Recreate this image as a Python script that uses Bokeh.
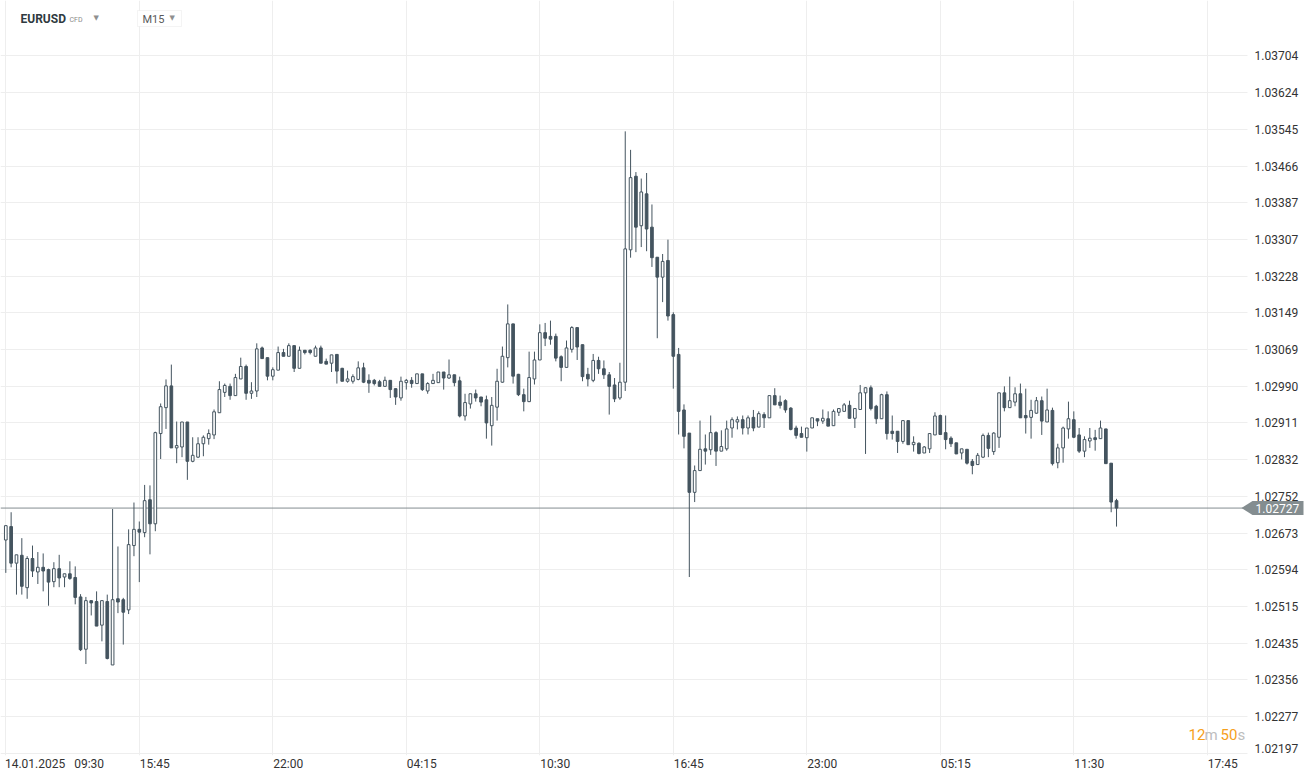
from bokeh.plotting import figure
from bokeh.models import (Range1d, FixedTicker, Label, Span, PolyAnnotation, LinearAxis,
                          BoxAnnotation, PrintfTickFormatter, ColumnDataSource)
from bokeh.embed import file_html
from bokeh.resources import INLINE

# ---------------- data (EURUSD M15, prices in 1e-5 units) ----------------
opens = [102658, 102687, 102608, 102625, 102555, 102618, 102589, 102599, 102594, 102568,
         102596, 102578, 102585, 102577, 102535, 102422, 102527, 102525, 102474, 102525,
         102388, 102531, 102529, 102507, 102646, 102681, 102674, 102745, 102693, 102888,
         102944, 102991, 102857, 102859, 102913, 102828, 102837, 102866, 102877, 102885,
         102933, 102977, 102990, 102970, 103006, 103033, 102975, 102980, 103073, 103052,
         103012, 103025, 103063, 103055, 103078, 103029, 103068, 103068, 103055, 103073,
         103044, 103040, 103059, 103029, 103001, 103001, 103005, 103030, 103003, 103003,
         103000, 102990, 103003, 102985, 102965, 102998, 103003, 102996, 103017, 102980,
         102996, 102998, 103021, 103008, 103015, 103002, 102926, 102952, 102974, 102967,
         102961, 102905, 102945, 102999, 103052, 103125, 103016, 102972, 102957, 103006,
         103047, 103106, 103098, 103098, 103054, 103031, 103070, 103117, 103080, 103016,
         103003, 103046, 103028, 103015, 102993, 102965, 102999, 103285, 103444, 103337,
         103406, 103334, 103269, 103226, 103262, 103145, 103059, 102939, 102889, 102761,
         102808, 102855, 102853, 102890, 102850, 102855, 102900, 102913, 102918, 102900,
         102923, 102902, 102929, 102922, 102970, 102956, 102959, 102943, 102900, 102888,
         102879, 102900, 102920, 102915, 102920, 102905, 102934, 102936, 102949, 102921,
         102940, 102976, 102987, 102947, 102920, 102972, 102893, 102893, 102871, 102916,
         102864, 102867, 102846, 102855, 102885, 102927, 102890, 102878, 102868, 102846,
         102854, 102828, 102821, 102837, 102884, 102849, 102880, 102976, 102944, 102956,
         102974, 102927, 102923, 102932, 102959, 102913, 102938, 102825, 102857, 102898,
         102918, 102885, 102850, 102872, 102879, 102877, 102898, 102824, 102743]
highs = [102689, 102718, 102626, 102662, 102623, 102646, 102632, 102629, 102596, 102610,
         102626, 102585, 102612, 102601, 102541, 102535, 102527, 102547, 102527, 102540,
         102725, 102644, 102533, 102681, 102739, 102698, 102777, 102776, 102892, 102953,
         103005, 103037, 102914, 102913, 102913, 102880, 102880, 102884, 102897, 102940,
         103001, 102996, 102996, 103017, 103052, 103037, 102999, 103083, 103076, 103052,
         103031, 103076, 103071, 103083, 103078, 103076, 103068, 103070, 103078, 103078,
         103050, 103058, 103059, 103030, 103024, 103016, 103044, 103041, 103016, 103006,
         103004, 103011, 103003, 102985, 103011, 103006, 103010, 103017, 103017, 102999,
         103017, 103021, 103021, 103048, 103015, 103011, 102974, 102974, 102983, 102967,
         102970, 102967, 103028, 103076, 103167, 103125, 103017, 102985, 103065, 103065,
         103124, 103127, 103132, 103104, 103057, 103089, 103120, 103117, 103080, 103030,
         103060, 103054, 103046, 103021, 103008, 103041, 103541, 103501, 103453, 103439,
         103451, 103383, 103269, 103276, 103307, 103150, 103073, 102951, 102889, 102819,
         102916, 102886, 102927, 102893, 102895, 102916, 102923, 102925, 102927, 102927,
         102939, 102936, 102934, 102970, 102986, 102970, 102962, 102945, 102905, 102903,
         102900, 102922, 102920, 102940, 102936, 102940, 102943, 102954, 102959, 102942,
         102993, 102988, 102992, 102950, 102974, 102979, 102927, 102893, 102916, 102916,
         102882, 102869, 102861, 102888, 102934, 102929, 102927, 102882, 102868, 102855,
         102854, 102833, 102846, 102888, 102890, 102891, 102976, 102990, 103011, 102988,
         102996, 102985, 102961, 102967, 102968, 102985, 102944, 102866, 102903, 102957,
         102936, 102900, 102882, 102900, 102896, 102916, 102898, 102824, 102747]
lows = [102587, 102599, 102540, 102540, 102531, 102578, 102563, 102547, 102516, 102556,
        102556, 102556, 102572, 102519, 102418, 102390, 102495, 102472, 102439, 102400,
        102388, 102500, 102432, 102498, 102623, 102567, 102664, 102627, 102677, 102833,
        102898, 102857, 102824, 102837, 102788, 102826, 102835, 102839, 102864, 102876,
        102933, 102967, 102961, 102970, 103006, 102961, 102963, 102967, 103050, 103003,
        103003, 103025, 103055, 103055, 103021, 103029, 103059, 103059, 103055, 103040,
        103038, 103021, 102996, 103001, 102998, 102996, 103003, 102997, 102976, 102992,
        102990, 102990, 102965, 102950, 102959, 102983, 102987, 102996, 102980, 102974,
        102996, 102998, 102983, 103006, 102990, 102923, 102916, 102942, 102957, 102947,
        102877, 102862, 102916, 102998, 103031, 102996, 102969, 102936, 102956, 102994,
        103047, 103077, 103080, 103044, 103001, 103031, 103063, 103047, 103001, 102990,
        102999, 103017, 103006, 102929, 102956, 102961, 102980, 103268, 103280, 103291,
        103282, 103248, 103094, 103172, 103132, 102985, 102886, 102856, 102578, 102740,
        102808, 102821, 102842, 102818, 102850, 102851, 102879, 102897, 102886, 102886,
        102893, 102902, 102900, 102922, 102950, 102942, 102933, 102895, 102877, 102880,
        102849, 102900, 102904, 102909, 102904, 102905, 102926, 102936, 102921, 102900,
        102940, 102844, 102938, 102909, 102920, 102875, 102875, 102846, 102866, 102864,
        102849, 102843, 102846, 102846, 102885, 102886, 102854, 102859, 102844, 102832,
        102821, 102800, 102821, 102835, 102837, 102842, 102857, 102936, 102944, 102947,
        102922, 102888, 102877, 102931, 102885, 102913, 102819, 102813, 102825, 102877,
        102878, 102846, 102837, 102857, 102851, 102877, 102823, 102718, 102687]
closes = [102689, 102608, 102626, 102558, 102618, 102591, 102599, 102591, 102567, 102596,
          102576, 102585, 102575, 102534, 102421, 102527, 102522, 102472, 102527, 102402,
          102529, 102524, 102502, 102648, 102681, 102675, 102743, 102693, 102890, 102946,
          102991, 102857, 102862, 102913, 102828, 102841, 102866, 102880, 102888, 102935,
          102983, 102992, 102970, 103009, 103033, 102975, 102980, 103071, 103050, 103012,
          103026, 103063, 103055, 103078, 103029, 103068, 103063, 103063, 103073, 103040,
          103038, 103058, 103023, 103001, 103006, 103011, 103030, 102999, 102997, 102996,
          102990, 103003, 102983, 102967, 103001, 103003, 102996, 103017, 102983, 102996,
          103003, 103021, 103008, 103015, 102998, 102926, 102955, 102974, 102965, 102956,
          102911, 102949, 103001, 103055, 103125, 103012, 102972, 102957, 103009, 103047,
          103106, 103094, 103092, 103051, 103031, 103073, 103117, 103075, 103011, 103006,
          103046, 103028, 103015, 102990, 102963, 102999, 103287, 103441, 103334, 103410,
          103330, 103268, 103226, 103260, 103142, 103055, 102936, 102882, 102761, 102808,
          102854, 102850, 102890, 102850, 102860, 102898, 102918, 102918, 102900, 102922,
          102900, 102931, 102922, 102970, 102950, 102949, 102939, 102897, 102884, 102880,
          102900, 102922, 102915, 102921, 102904, 102936, 102942, 102950, 102921, 102942,
          102976, 102987, 102942, 102920, 102972, 102888, 102888, 102871, 102916, 102864,
          102869, 102845, 102859, 102888, 102926, 102886, 102875, 102866, 102844, 102855,
          102824, 102819, 102841, 102884, 102856, 102889, 102976, 102944, 102959, 102974,
          102922, 102922, 102938, 102959, 102915, 102939, 102823, 102857, 102900, 102920,
          102880, 102850, 102875, 102878, 102875, 102900, 102823, 102740, 102727]

price_ticks = [1.02197, 1.02277, 1.02356, 1.02435, 1.02515, 1.02594, 1.02673, 1.02752,
               1.02832, 1.02911, 1.02990, 1.03069, 1.03149, 1.03228, 1.03307, 1.03387,
               1.03466, 1.03545, 1.03624, 1.03704]
time_labels = ["14.01.2025\u00a0\u00a0\u00a009:30", "15:45", "22:00", "04:15", "10:30",
               "16:45", "23:00", "05:15", "11:30", "17:45"]
time_label_candles = [0, 25, 50, 75, 100, 125, 150, 175, 200, 225]
countdown = [("12", "#f6a01a"), ("m", "#bdbdbd"), ("50", "#f6a01a"), ("s", "#bdbdbd")]
symbol, symbol_kind, timeframe = "EURUSD", "CFD", "M15"

# ---------------- layout helpers (canvas pixels -> data space) ----------------
CANDLE0_X, CANDLE_PX = 5.3, 5.34
REF_PRICE, REF_Y, PX_PER_PRICE = 1.02752, 496.0, 46280.0
W, H = 1314, 779
CHART_R, FRAME_B = 1247, 755


def dx(px):
    return (px - CANDLE0_X) / CANDLE_PX


def dy(py):
    return REF_PRICE - (py - REF_Y) / PX_PER_PRICE


DARK = "#44545f"
TAG = "#848d90"
FONT = "Roboto"

o = [v / 1e5 for v in opens]
h = [v / 1e5 for v in highs]
l = [v / 1e5 for v in lows]
c = [v / 1e5 for v in closes]
xs = list(range(len(o)))
src = ColumnDataSource(dict(
    x=xs, h=h, l=l,
    top=[max(a, b) for a, b in zip(o, c)],
    bot=[min(a, b) for a, b in zip(o, c)],
    fill=["white" if cc >= oo else DARK for oo, cc in zip(o, c)],
))

# frame spans the full width; the price axis is pinned at the chart's right edge
p = figure(width=W, height=H,
           x_range=Range1d(dx(0), dx(W)), y_range=Range1d(dy(FRAME_B), dy(0)),
           y_axis_location="right", output_backend="svg", toolbar_location=None,
           min_border_left=0, min_border_right=0, min_border_top=0,
           min_border_bottom=H - FRAME_B)
p.outline_line_color = None
p.background_fill_color = "white"
p.border_fill_color = "white"


def style_axis(ax):
    ax.axis_line_color = None
    ax.major_tick_line_color = None
    ax.minor_tick_line_color = None
    ax.major_tick_out = 0
    ax.major_tick_in = 0
    ax.major_label_text_font = FONT
    ax.major_label_text_font_size = "12px"
    ax.major_label_text_color = "#333333"


# price axis: the lowest label is nudged up to stay inside the chart (as in the original)
p.yaxis.ticker = FixedTicker(ticks=price_ticks[1:])
p.yaxis.formatter = PrintfTickFormatter(format="%.5f")
p.yaxis.fixed_location = dx(CHART_R)
style_axis(p.yaxis[0])
p.yaxis.major_label_standoff = 7
edge_pos = round(dy(748), 7)
edge_axis = LinearAxis(fixed_location=dx(CHART_R), ticker=FixedTicker(ticks=[edge_pos]),
                       major_label_overrides={edge_pos: f"{price_ticks[0]:.5f}"})
style_axis(edge_axis)
edge_axis.major_label_standoff = 7
p.add_layout(edge_axis, "right")

# time axis
label_centers = []
for i, (n, t) in enumerate(zip(time_label_candles, time_labels)):
    if i == 0:
        label_centers.append(round(dx(54), 3))
    else:
        label_centers.append(round(n + 15.5 / CANDLE_PX, 3))
p.xaxis.ticker = FixedTicker(ticks=label_centers)
p.xaxis.major_label_overrides = {k: t for k, t in zip(label_centers, time_labels)}
style_axis(p.xaxis[0])
p.xaxis.major_label_standoff = 1

p.xgrid.ticker = FixedTicker(ticks=time_label_candles)
p.ygrid.ticker = FixedTicker(ticks=price_ticks)
for g in (p.xgrid[0], p.ygrid[0]):
    g.grid_line_color = "#eeeeee"
    g.grid_line_width = 1

# current price line (under the candles)
last = c[-1]
p.add_layout(Span(location=last, dimension="width", line_color=TAG, line_width=1,
                  level="underlay"))
# keep the price-axis strip clear of grid lines
p.add_layout(BoxAnnotation(left=dx(CHART_R), fill_color="white", fill_alpha=1,
                           line_color=None, level="underlay"))

# candles
p.segment(x0="x", y0="h", x1="x", y1="l", source=src, line_color=DARK, line_width=1)
p.vbar(x="x", width=0.5, top="top", bottom="bot", source=src,
       fill_color="fill", line_color=DARK, line_width=1)

# current price tag
half = 7 / PX_PER_PRICE
p.add_layout(PolyAnnotation(
    xs=[dx(1241), dx(1252), dx(1303), dx(1303), dx(1252)],
    ys=[last, last + half, last + half, last - half, last - half],
    fill_color=TAG, fill_alpha=1, line_color=None))
p.add_layout(Label(x=dx(1255), y=last, text=f"{last:.5f}", text_color="white",
                   text_font=FONT, text_font_size="12px", text_baseline="middle",
                   text_align="left"))

# header
p.add_layout(Label(x=dx(20), y=dy(18.5), text=symbol, text_font=FONT, text_font_size="12px",
                   text_font_style="bold", text_color="#2f3a40", text_baseline="middle"))
p.add_layout(Label(x=dx(69), y=dy(19), text=symbol_kind, text_font=FONT, text_font_size="7px",
                   text_color="#8a8a8a", text_baseline="middle"))
p.add_layout(Label(x=dx(93), y=dy(17), text="\u25bc", text_font="DejaVu Sans", text_font_size="7px",
                   text_color="#8f8f8f", text_baseline="middle"))
p.add_layout(BoxAnnotation(left=dx(137), right=dx(181), top=dy(10), bottom=dy(26),
                           fill_color="white", fill_alpha=1, line_color="#dcdcdc", line_width=1))
p.add_layout(Label(x=dx(142), y=dy(18.5), text=timeframe, text_font=FONT, text_font_size="11px",
                   text_color="#5a5a5a", text_baseline="middle"))
p.add_layout(Label(x=dx(169), y=dy(17), text="\u25bc", text_font="DejaVu Sans", text_font_size="7px",
                   text_color="#8f8f8f", text_baseline="middle"))

# countdown
cx = [1188, 1204, 1220, 1237]
for (txt, col), px in zip(countdown, cx):
    p.add_layout(Label(x=dx(px), y=dy(734), text=txt, text_font=FONT, text_font_size="15px",
                       text_color=col, text_baseline="middle"))

open("out.html", "w").write(file_html(p, INLINE))
